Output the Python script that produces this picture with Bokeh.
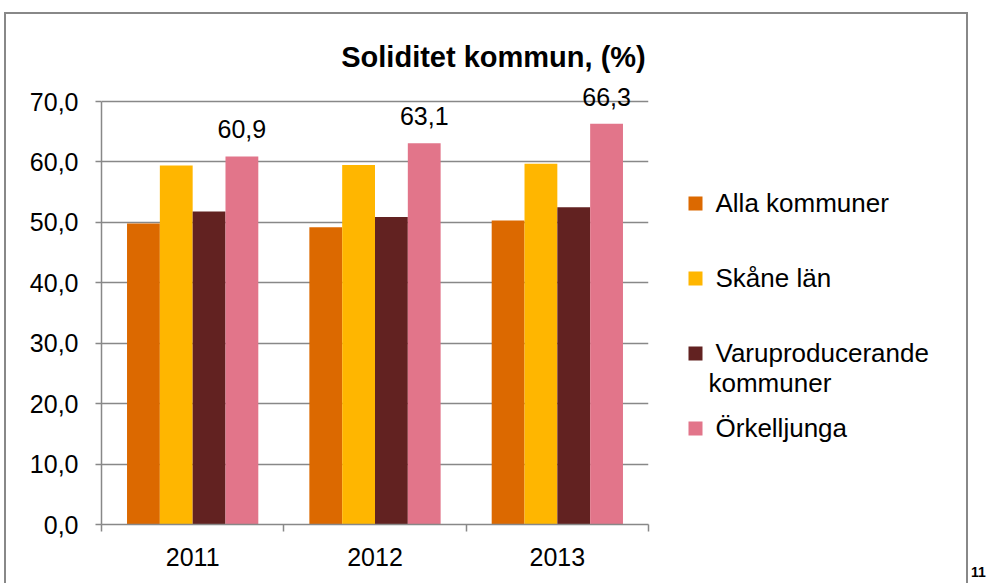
from bokeh.plotting import figure
from bokeh.layouts import row
from bokeh.models import Range1d, FixedTicker, ColumnDataSource, LabelSet, Label, LinearAxis
from bokeh.core.properties import value
from bokeh.embed import file_html
from bokeh.resources import INLINE

# ---------------- data ----------------
years = ["2011", "2012", "2013"]
series_names = ["Alla kommuner", "Skåne län", "Varuproducerande\nkommuner", "Örkelljunga"]
alla_kommuner = [49.8, 49.2, 50.3]
skane_lan = [59.4, 59.5, 59.7]
varuproducerande = [51.8, 50.9, 52.5]
orkelljunga = [60.9, 63.1, 66.3]
y_ticks = [0, 10, 20, 30, 40, 50, 60, 70]
colors = ["#DC6900", "#FFB600", "#622221", "#E2758A"]
title_text = "Soliditet kommun, (%)"
page_number = "11"

series_values = [alla_kommuner, skane_lan, varuproducerande, orkelljunga]

FONT = "Liberation Sans"
GREY = "#888888"

# ---------------- layout (pixels) ----------------
H = 583
MW = 660          # main figure width
LW = 987 - MW     # legend figure width
FL, FR, FB = 101, 648, 524   # frame left / right / bottom
Y_MAX_PX = 101               # pixel row of the top tick
y_max = max(y_ticks)
px_y = (FB - Y_MAX_PX) / y_max
px_x = (FR - FL) / len(years)
y_top = FB / px_y            # value at the top of the canvas
BOX_TOP, BOX_LEFT, BOX_RIGHT = 12, 4, 966   # outer chart box lines


def vx(px):
    return (px - FL) / px_x


def vy(py):
    return (FB - py) / px_y


def css_lines(rects):
    """background gradients that paint thin box lines behind a transparent canvas"""
    grad = f"linear-gradient({GREY}, {GREY})"
    return {
        "background-image": ", ".join([grad] * len(rects)),
        "background-size": ", ".join(f"{w}px {h}px" for (_, _, w, h) in rects),
        "background-position": ", ".join(f"{x}px {y}px" for (x, y, _, _) in rects),
        "background-repeat": "no-repeat",
    }


main = figure(width=MW, height=H, x_range=Range1d(0, len(years)), y_range=Range1d(0, y_top),
              output_backend="svg", toolbar_location=None,
              min_border_left=FL, min_border_right=MW - FR, min_border_top=0,
              min_border_bottom=H - FB)
main.title.visible = False
main.outline_line_color = None
main.background_fill_color = None
main.border_fill_color = None
main.styles = css_lines([(BOX_LEFT, BOX_TOP, 2, H), (BOX_LEFT, BOX_TOP, MW, 2)])

bar_w = 0.18
n = len(series_values)
for j, (vals, col) in enumerate(zip(series_values, colors)):
    xs = [i + 0.5 + (j - (n - 1) / 2) * bar_w for i in range(len(years))]
    src = ColumnDataSource(dict(x=xs, top=vals,
                                label=[f"{v:.1f}".replace(".", ",") for v in vals]))
    main.vbar(x="x", top="top", width=bar_w, bottom=0, source=src,
              fill_color=col, line_color=None)
    if j == n - 1:
        main.add_layout(LabelSet(x="x", y="top", text="label", source=src,
                                 text_align="center", text_baseline="alphabetic",
                                 y_offset=18, text_font=value(FONT),
                                 text_font_size=value("25px"), text_color="black"))

# y axis
main.yaxis.bounds = (0, y_max)
main.yaxis.ticker = FixedTicker(ticks=y_ticks, minor_ticks=[])
main.yaxis.major_label_overrides = {t: f"{t:.1f}".replace(".", ",") for t in y_ticks}
main.yaxis.axis_line_color = GREY
main.yaxis.axis_line_width = 1.5
main.yaxis.major_tick_line_color = GREY
main.yaxis.major_tick_line_width = 1.5
main.yaxis.major_tick_out = 6
main.yaxis.major_tick_in = 0
main.yaxis.minor_tick_line_color = None
main.yaxis.major_label_standoff = 17
main.yaxis.major_label_text_font = FONT
main.yaxis.major_label_text_font_size = "25px"
main.yaxis.major_label_text_color = "black"

# x axis: labels at category centres, tick marks at category boundaries
centers = [i + 0.5 for i in range(len(years))]
main.xaxis.ticker = FixedTicker(ticks=centers, minor_ticks=list(range(len(years) + 1)))
main.xaxis.major_label_overrides = {c: y for c, y in zip(centers, years)}
main.xaxis.axis_line_color = GREY
main.xaxis.axis_line_width = 1.5
main.xaxis.major_tick_line_color = None
main.xaxis.major_tick_out = 6
main.xaxis.major_tick_in = 0
main.xaxis.minor_tick_line_color = GREY
main.xaxis.minor_tick_line_width = 1.5
main.xaxis.minor_tick_out = 7
main.xaxis.minor_tick_in = 0
main.xaxis.major_label_standoff = 16
main.xaxis.major_label_text_font = FONT
main.xaxis.major_label_text_font_size = "25px"
main.xaxis.major_label_text_color = "black"

main.xgrid.visible = False
main.ygrid.ticker = FixedTicker(ticks=y_ticks)
main.ygrid.grid_line_color = GREY
main.ygrid.grid_line_width = 1.5

# title
main.add_layout(Label(x=vx(493), y=vy(56), text=title_text,
                      text_align="center", text_baseline="middle",
                      text_font=FONT, text_font_size="29px", text_font_style="bold",
                      text_color="black"))

# ---------------- legend figure (pixel coordinates) ----------------
lg = figure(width=LW, height=H, x_range=Range1d(MW, MW + LW), y_range=Range1d(FB, 0),
            x_axis_location=None, y_axis_location=None, output_backend="svg",
            toolbar_location=None, min_border_left=0, min_border_right=0,
            min_border_top=0, min_border_bottom=H - FB)
lg.title.visible = False
lg.outline_line_color = None
lg.grid.visible = False
lg.xgrid.visible = False
lg.ygrid.visible = False
lg.background_fill_color = None
lg.border_fill_color = None
lg.styles = css_lines([(0, BOX_TOP, BOX_RIGHT - MW + 2, 2), (BOX_RIGHT - MW, BOX_TOP, 2, H)])

LEG_X, LEG_TOP, LEG_STEP, SQ = 695, 203, 75, 14
TXT_X, LINE_H = 715, 30
leg_y = [LEG_TOP + i * LEG_STEP for i in range(len(series_names))]
lg.rect(x=[LEG_X] * len(leg_y), y=leg_y, width=SQ, height=SQ,
        fill_color=colors, line_color=None)
tx, ty, tt = [], [], []
for cy, name in zip(leg_y, series_names):
    for k, line in enumerate(name.split("\n")):
        tx.append(TXT_X if k == 0 else TXT_X - 7)
        ty.append(cy - 1 + k * LINE_H)
        tt.append(line)
lg.text(x=tx, y=ty, text=tt, text_align="left", text_baseline="middle",
        text_font=value(FONT), text_font_size=value("26px"), text_color="black")

# page number, placed under the legend figure's frame by an axis without line or ticks
PN_X = 978
pn_axis = LinearAxis(ticker=FixedTicker(ticks=[PN_X], minor_ticks=[]),
                     major_label_overrides={PN_X: page_number},
                     axis_line_color=None, major_tick_line_color=None,
                     minor_tick_line_color=None, major_tick_out=0, major_tick_in=0,
                     minor_tick_out=0, minor_tick_in=0,
                     major_label_standoff=42, major_label_text_font=FONT,
                     major_label_text_font_size="14px", major_label_text_font_style="bold",
                     major_label_text_color="black")
lg.add_layout(pn_axis, "below")

layout = row(main, lg)
open("out.html", "w").write(file_html(layout, INLINE))
